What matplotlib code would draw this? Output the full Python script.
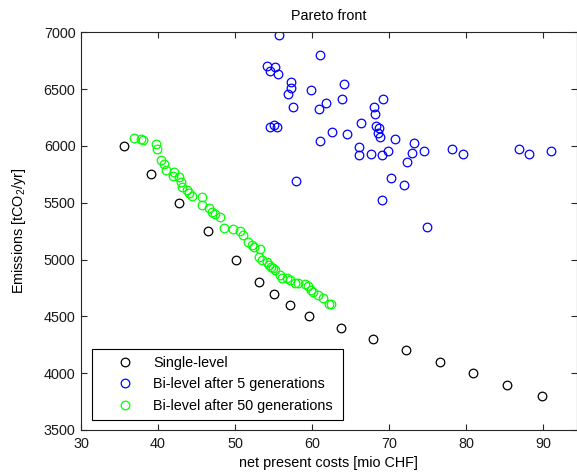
import matplotlib
matplotlib.use("Agg")
import matplotlib.pyplot as plt

# single-level optimisation front
single_cost = [35.6, 39.1, 42.7, 46.5, 50.1, 53.1, 55.0, 57.1, 59.6, 63.8,
               67.9, 72.2, 76.6, 80.9, 85.3, 89.8]
single_em = [6000, 5750, 5500, 5250, 5000, 4800, 4700, 4600, 4500, 4400,
             4300, 4200, 4100, 4000, 3900, 3800]

# bi-level, population after 5 generations
bi5_cost = [55.75, 54.19, 54.55, 55.13, 55.62, 60.95, 57.27, 57.27, 56.92, 57.53,
            59.91, 64.18, 63.81, 61.78, 60.82, 66.36, 54.55, 55.06, 55.42, 62.6,
            64.57, 60.95, 57.86, 67.99, 68.18, 69.25, 68.31, 68.61, 68.51, 68.83,
            70.71, 66.14, 66.14, 67.6, 69.05, 69.9, 73.21, 72.92, 74.55, 72.36,
            78.08, 79.57, 86.88, 88.14, 91.0, 70.29, 71.9, 69.09, 74.94]
bi5_em = [6976, 6701, 6659, 6695, 6637, 6800, 6563, 6507, 6457, 6344,
          6496, 6545, 6413, 6382, 6322, 6199, 6169, 6184, 6169, 6121,
          6105, 6046, 5694, 6345, 6281, 6413, 6178, 6155, 6114, 6076,
          6064, 5991, 5920, 5933, 5922, 5955, 6023, 5942, 5953, 5859,
          5971, 5933, 5973, 5932, 5953, 5716, 5654, 5522, 5285]

# bi-level, population after 50 generations
bi50_cost = [36.82, 37.79, 38.09, 39.68, 39.91, 40.39, 40.82, 41.0, 41.91, 42.08,
             42.73, 42.95, 43.08, 43.73, 44.06, 44.45, 45.68, 45.68, 46.62, 46.97,
             47.4, 47.99, 48.61, 49.68, 50.58, 51.04, 51.62, 52.17, 52.4, 53.21,
             53.16, 53.47, 54.12, 54.45, 54.68, 54.97, 55.23, 55.84, 56.06, 56.71,
             57.14, 57.79, 58.22, 59.09, 59.52, 59.81, 60.17, 60.78, 61.36, 62.18,
             62.43]
bi50_em = [6074, 6061, 6052, 6017, 5969, 5876, 5845, 5788, 5731, 5773,
           5727, 5685, 5641, 5612, 5588, 5559, 5548, 5480, 5458, 5421,
           5397, 5377, 5275, 5265, 5247, 5216, 5157, 5128, 5113, 5093,
           5020, 4996, 4981, 4952, 4937, 4923, 4908, 4864, 4835, 4835,
           4820, 4796, 4791, 4788, 4767, 4732, 4715, 4688, 4662, 4609,
           4605]

plt.rcParams['font.family'] = ['Liberation Sans', 'DejaVu Sans']
plt.rcParams['font.size'] = 10.4
plt.rcParams['mathtext.fontset'] = 'custom'
plt.rcParams['mathtext.rm'] = 'Liberation Sans'

fig = plt.figure(figsize=(5.77, 4.75), dpi=100)
ax = fig.add_axes([81 / 577, 45 / 475, 495.5 / 577, 397.7 / 475])

mk = dict(linestyle='none', marker='o', markersize=6.2, markerfacecolor='none',
          markeredgewidth=0.9)
ax.plot(single_cost, single_em, markeredgecolor='k', label='Single-level', **mk)
ax.plot(bi5_cost, bi5_em, markeredgecolor=(0, 0, 1),
        label='Bi-level after 5 generations', **mk)
ax.plot(bi50_cost, bi50_em, markeredgecolor=(0, 1, 0),
        label='Bi-level after 50 generations', **mk)

ax.set_xlim(30, 94.3)
ax.set_ylim(3500, 7000)
ax.set_xticks(range(30, 91, 10))
ax.set_yticks(range(3500, 7001, 500))
ax.tick_params(direction='in', length=4, width=0.8, top=True, right=True,
               colors='#262626', labelcolor='#1a1a1a')
ax.tick_params(axis='y', pad=4)
ax.tick_params(axis='x', pad=5)
for s in ax.spines.values():
    s.set_color('#262626')
    s.set_linewidth(0.8)

ax.set_title('Pareto front', fontsize=10.4, pad=9)
ax.set_xlabel('net present costs [mio CHF]', labelpad=4)
ax.set_ylabel('Emissions [tCO$_2$/yr]', labelpad=11)

leg = ax.legend(loc='lower left', bbox_to_anchor=(0.022, 0.025, 0.507, 0.176),
                mode='expand', borderaxespad=0, borderpad=0.5, handlelength=3.6,
                handletextpad=0.15, labelspacing=0.52, fancybox=False,
                framealpha=1, edgecolor='k')
leg.get_frame().set_linewidth(0.8)

fig.savefig('out.png', dpi=100)
